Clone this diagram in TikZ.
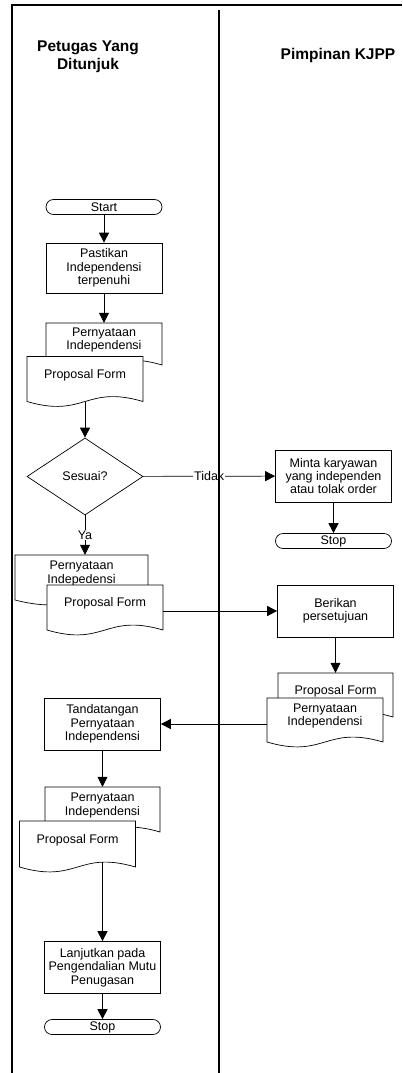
\documentclass[tikz,border=0pt]{standalone}
\usepackage{fontspec}
\setmainfont{Liberation Sans}
\usetikzlibrary{arrows.meta,shapes.geometric}

% document symbol: outline with wavy bottom, empty named box, text a bit higher
\newcommand{\docnode}[6]{%
  \path[docline] ({#2-#4/2},{#3-#5/2}) -- ({#2-#4/2},{#3+#5/2})
    .. controls ({#2},{#3+#5/2+17}) and ({#2},{#3+#5/2-17}) .. ({#2+#4/2},{#3+#5/2})
    -- ({#2+#4/2},{#3-#5/2}) -- cycle;
  \node[minimum width=#4pt, minimum height=#5pt, inner sep=0pt] (#1) at (#2,#3) {};
  \node[align=center] (#1-text) at ([yshift=4pt]#1.center) {#6};
}

\begin{document}
\begin{tikzpicture}[
    x=1pt, y=-1pt,
    every node/.style={font=\fontsize{12.5}{13.3}\selectfont},
    block/.style={rectangle, draw, line width=0.7pt, fill=white, align=center, minimum width=116pt, minimum height=52pt, inner sep=1pt},
    term/.style={rectangle, draw, line width=0.7pt, fill=white, rounded corners=7.5pt, minimum width=116pt, minimum height=15pt, inner sep=0pt},
    decision/.style={diamond, draw, line width=0.7pt, fill=white, aspect=1.5, minimum width=116pt, minimum height=77pt, inner sep=0pt},
    docline/.style={draw, fill=white, line width=0.7pt},
    head/.style={font=\bfseries\fontsize{15.5}{18}\selectfont, align=center},
    arrow/.style={-{Triangle[width=10pt,length=10pt]}, line width=0.7pt},
    lane/.style={line width=2pt}
]
\useasboundingbox (0,0) rectangle (402,1073);

\node[head] (petugas) at (88,57) {Petugas Yang\\Ditunjuk};
\node[head] (pimpinan) at (338,55) {Pimpinan KJPP};

\node[term] (start) at (104,207) {Start};
\node[block, minimum height=50pt] (pastikan) at (104,268) {Pastikan\\Independensi\\terpenuhi};
\docnode{pernyataanA}{104}{344}{116}{42}{Pernyataan\\Independensi}
\docnode{proposalA}{85}{379}{116}{45}{Proposal Form}
\node[decision] (sesuai) at (85,476.5) {Sesuai?};
\node[block] (minta) at (333.5,476) {Minta karyawan\\yang independen\\atau tolak order};
\node[term] (stopA) at (333.5,541) {Stop};
\docnode{pernyataanB}{81.5}{577.5}{133}{45}{Pernyataan\\Indepedensi}
\docnode{proposalB}{105}{607.5}{116}{45}{Proposal Form}
\node[block] (berikan) at (335.5,611) {Berikan\\persetujuan};
\docnode{proposalC}{335.5}{695}{115}{44}{Proposal Form}
\docnode{pernyataanC}{325}{720}{116}{44}{Pernyataan\\Independensi}
\node[block] (tanda) at (102.5,724) {Tandatangan\\Pernyataan\\Independensi};
\docnode{pernyataanD}{102.5}{809.5}{115}{45}{Pernyataan\\Independensi}
\node[block] (lanjut) at (102.5,967.5) {Lanjutkan pada\\Pengendalian Mutu\\Penugasan};
\node[term] (stopB) at (102.5,1027) {Stop};

% this one runs behind the front form
\draw[arrow] (pernyataanD) -- (lanjut);
\docnode{proposalD}{77.5}{844}{116}{46}{Proposal Form}

\draw[arrow] (start) -- (pastikan);
\draw[arrow] (pastikan) -- (pernyataanA);
\draw[arrow] (proposalA) -- (sesuai);
\draw[arrow] (sesuai) -- node[fill=white, inner sep=1pt] (tidak) {Tidak} (minta);
\draw[arrow] (minta) -- (stopA);
\draw[arrow] (sesuai) -- node[fill=white, inner sep=1pt] (ya) {Ya} (sesuai |- pernyataanB.north);
\draw[arrow] (proposalB.east |- berikan) -- (berikan);
\draw[arrow] (berikan) -- (proposalC);
\draw[arrow] (pernyataanC.west |- tanda) -- (tanda);
\draw[arrow] (tanda) -- (pernyataanD);
\draw[arrow] (lanjut) -- (stopB);

% swimlanes
\draw[lane] (12,1073) -- (12,5) -- (402,5);
\draw[lane] (219,10) -- (219,1073);

\end{tikzpicture}
\end{document}
